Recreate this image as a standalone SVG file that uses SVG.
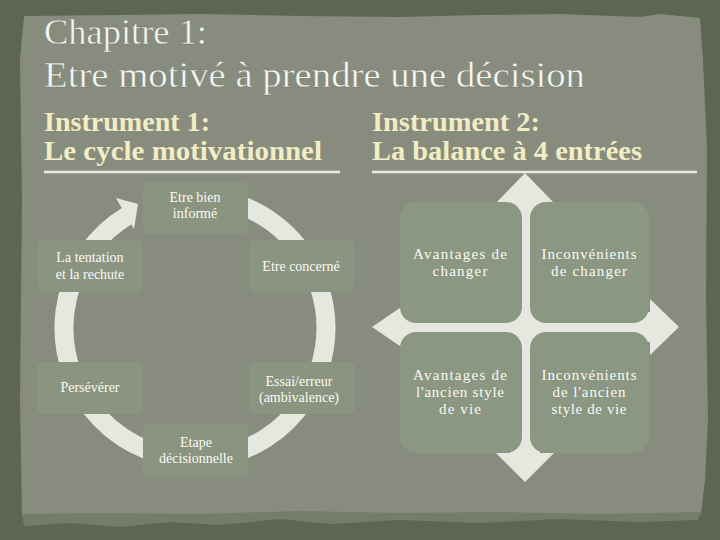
<svg xmlns="http://www.w3.org/2000/svg" width="720" height="540" viewBox="0 0 720 540">
  <defs>
    <style>
      .title { font-family: "Liberation Serif", "DejaVu Serif", serif; font-size: 36px; fill: #f7f7f2; stroke: #6d7264; stroke-width: 0.4; }
      .sub { font-family: "Liberation Serif", "DejaVu Serif", serif; font-size: 27px; font-weight: bold; fill: #f2edc3; }
      .rule { stroke: #ebeadf; stroke-width: 2.5; }
      .cbox { fill: #8a9481; }
      .bbox { fill: #8b9683; }
      .ct { font-family: "Liberation Serif", "DejaVu Serif", serif; font-size: 14px; fill: #fafaf3; text-anchor: middle; }
      .bt { font-family: "Liberation Serif", "DejaVu Serif", serif; font-size: 15px; fill: #fafaf3; text-anchor: middle; }
      .ring { fill: none; stroke: #e6e7de; stroke-width: 19; }
      .cross { fill: #e6e8df; }
    </style>
  </defs>

  <!-- background frame and paper -->
  <rect x="0" y="0" width="720" height="540" fill="#5e6652"/>
  <path d="M24 16 L120 15 L200 14 L300 16 L400 17 L480 15 L560 14 L640 17 L660 14 L700 18 L703 60 L707 150 L706 300 L708 420 L705 480 L701 514 L600 516 L500 514 L400 515 L300 513 L200 516 L100 515 L22 516 L20 400 L22 200 L20 60 Z" fill="#878c7f"/>
  <path d="M22 514 L100 513 L200 514 L300 511 L400 513 L500 512 L600 514 L701 512 L698 520 L640 522 L560 519 L480 523 L400 520 L330 524 L280 519 L220 525 L170 522 L120 527 L70 523 L24 526 Z" fill="#767c6c"/>

  <!-- titles -->
  <g id="title">
    <text class="title" x="44" y="44" textLength="163" lengthAdjust="spacingAndGlyphs">Chapitre 1:</text>
    <text class="title" x="44" y="87" textLength="541" lengthAdjust="spacingAndGlyphs">Etre motivé à prendre une décision</text>
  </g>
  <g id="instrument1">
    <text class="sub" x="44" y="131" textLength="166" lengthAdjust="spacingAndGlyphs">Instrument 1:</text>
    <text class="sub" x="44" y="160" textLength="278" lengthAdjust="spacingAndGlyphs">Le cycle motivationnel</text>
    <line class="rule" x1="44" y1="172" x2="340" y2="172"/>
  </g>
  <g id="instrument2">
    <text class="sub" x="372" y="131" textLength="168" lengthAdjust="spacingAndGlyphs">Instrument 2:</text>
    <text class="sub" x="372" y="160" textLength="270" lengthAdjust="spacingAndGlyphs">La balance à 4 entrées</text>
    <line class="rule" x1="372" y1="172" x2="697" y2="172"/>
  </g>

  <!-- connectors -->
  <g id="connectors">
    <path class="ring" d="M239.8 204.9 A131 131 0 1 1 127.5 215.7"/>
    <polygon class="cross" points="116,198 138,204 134,229"/>
    <polygon class="cross" points="525,173 554,203 540,203 540,312 650,312 650,299 679,327 650,355 650,342 540,342 540,453 554,453 525,482 496,453 510,453 510,342 413,342 413,355 372,327 413,299 413,312 510,312 510,203 496,203"/>
  </g>

  <!-- cycle nodes -->
  <g id="node-informe">
    <rect class="cbox" x="143" y="182" width="105" height="52" rx="5"/>
    <text class="ct" x="195" y="202">Etre bien</text>
    <text class="ct" x="195" y="218">informé</text>
  </g>
  <g id="node-concerne">
    <rect class="cbox" x="249" y="240" width="106" height="52" rx="5"/>
    <text class="ct" x="301" y="271">Etre concerné</text>
  </g>
  <g id="node-essai">
    <rect class="cbox" x="249" y="362" width="106" height="52" rx="5"/>
    <text class="ct" x="299" y="386">Essai/erreur</text>
    <text class="ct" x="299" y="402">(ambivalence)</text>
  </g>
  <g id="node-etape">
    <rect class="cbox" x="143" y="424" width="105" height="52" rx="5"/>
    <text class="ct" x="196" y="447">Etape</text>
    <text class="ct" x="196" y="463">décisionnelle</text>
  </g>
  <g id="node-perseverer">
    <rect class="cbox" x="37" y="362" width="106" height="52" rx="5"/>
    <text class="ct" x="90" y="392">Persévérer</text>
  </g>
  <g id="node-tentation">
    <rect class="cbox" x="37" y="240" width="106" height="52" rx="5"/>
    <text class="ct" x="90" y="262">La tentation</text>
    <text class="ct" x="90" y="279">et la rechute</text>
  </g>

  <!-- balance nodes -->
  <g id="node-avantages-changer">
    <rect class="bbox" x="400" y="202" width="122" height="121" rx="16"/>
    <text class="bt" x="460" y="259" textLength="94" lengthAdjust="spacing">Avantages de</text>
    <text class="bt" x="460" y="276" textLength="55" lengthAdjust="spacing">changer</text>
  </g>
  <g id="node-inconvenients-changer">
    <rect class="bbox" x="530" y="202" width="119" height="121" rx="16"/>
    <text class="bt" x="589" y="259" textLength="95" lengthAdjust="spacing">Inconvénients</text>
    <text class="bt" x="589" y="276" textLength="76" lengthAdjust="spacing">de changer</text>
  </g>
  <g id="node-avantages-ancien">
    <rect class="bbox" x="400" y="332" width="122" height="121" rx="16"/>
    <text class="bt" x="460" y="380" textLength="94" lengthAdjust="spacing">Avantages de</text>
    <text class="bt" x="460" y="397" textLength="88" lengthAdjust="spacing">l'ancien style</text>
    <text class="bt" x="460" y="414" textLength="42" lengthAdjust="spacing">de vie</text>
  </g>
  <g id="node-inconvenients-ancien">
    <rect class="bbox" x="530" y="332" width="119" height="121" rx="16"/>
    <text class="bt" x="589" y="380" textLength="95" lengthAdjust="spacing">Inconvénients</text>
    <text class="bt" x="589" y="397" textLength="73" lengthAdjust="spacing">de l'ancien</text>
    <text class="bt" x="589" y="414" textLength="75" lengthAdjust="spacing">style de vie</text>
  </g>
</svg>
